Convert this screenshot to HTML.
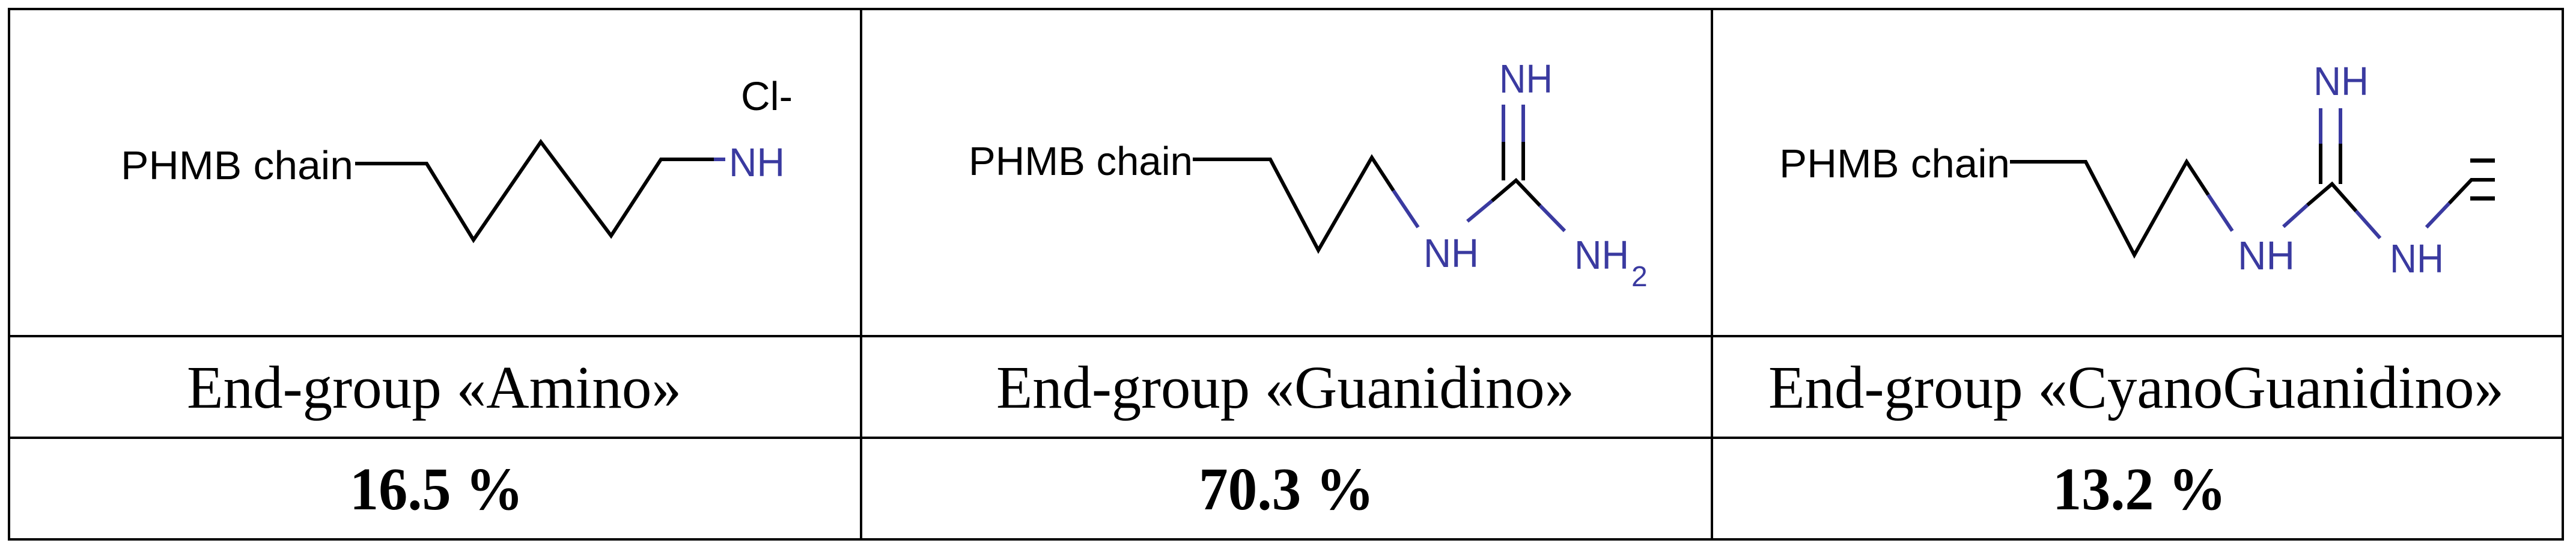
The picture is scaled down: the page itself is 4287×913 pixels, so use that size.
<!DOCTYPE html>
<html><head><meta charset="utf-8"><style>
html,body{margin:0;padding:0;background:#fff;}
svg{display:block;}
.a{font-family:"Liberation Sans",Arial,sans-serif;font-size:67px;}
.t{font-family:"Liberation Serif","Times New Roman",serif;font-size:101px;}
.b{font-family:"Liberation Serif","Times New Roman",serif;font-size:101px;font-weight:bold;}
</style></head><body>
<svg width="4287" height="913" viewBox="0 0 4287 913" xmlns="http://www.w3.org/2000/svg">
<g stroke="#000" stroke-width="4" fill="none">
<rect x="15" y="15" width="4250" height="882"/>
<line x1="15" y1="559" x2="4265" y2="559"/>
<line x1="15" y1="728" x2="4265" y2="728"/>
<line x1="1433" y1="15" x2="1433" y2="897"/>
<line x1="2849" y1="15" x2="2849" y2="897"/>
</g>
<!-- Column 1 -->
<g fill="none" stroke-width="6" stroke-linejoin="miter">
<polyline stroke="#000" points="591,272 710,272 788,399 900,236 1017,392 1100,265 1190,265"/>
<line stroke="#3a3aa0" x1="1188" y1="265" x2="1207" y2="265"/>
</g>
<text class="a" x="201" y="298" textLength="387" lengthAdjust="spacingAndGlyphs">PHMB chain</text>
<text class="a" x="1213" y="293" fill="#3a3aa0" textLength="93" lengthAdjust="spacingAndGlyphs">NH</text>
<text class="a" x="1233" y="183" textLength="86" lengthAdjust="spacingAndGlyphs">Cl-</text>
<!-- Column 2 -->
<g fill="none" stroke-width="6">
<polyline stroke="#000" points="1985,265 2114,265 2194,416 2283,262 2319,317"/>
<line stroke="#3a3aa0" x1="2319" y1="317" x2="2360" y2="378"/>
<line stroke="#3a3aa0" x1="2442" y1="368" x2="2483" y2="334"/>
<polyline stroke="#000" points="2483,334 2523,300 2563,342"/>
<line stroke="#3a3aa0" x1="2563" y1="342" x2="2604" y2="384"/>
<line stroke="#000" x1="2502" y1="300" x2="2502" y2="236"/>
<line stroke="#000" x1="2535" y1="300" x2="2535" y2="236"/>
<line stroke="#3a3aa0" x1="2502" y1="236" x2="2502" y2="174"/>
<line stroke="#3a3aa0" x1="2535" y1="236" x2="2535" y2="174"/>
</g>
<text class="a" x="1612" y="291" textLength="373" lengthAdjust="spacingAndGlyphs">PHMB chain</text>
<g class="a" fill="#3a3aa0">
<text x="2369" y="444" textLength="92" lengthAdjust="spacingAndGlyphs">NH</text>
<text x="2495" y="154" textLength="89" lengthAdjust="spacingAndGlyphs">NH</text>
<text x="2620" y="447" textLength="91" lengthAdjust="spacingAndGlyphs">NH</text>
<text x="2715" y="476" style="font-size:48px">2</text>
</g>
<!-- Column 3 -->
<g fill="none" stroke-width="6">
<polyline stroke="#000" points="3345,269 3471,269 3552,424 3639,269 3675,324"/>
<line stroke="#3a3aa0" x1="3675" y1="324" x2="3715" y2="384"/>
<line stroke="#3a3aa0" x1="3800" y1="377" x2="3840" y2="341"/>
<polyline stroke="#000" points="3840,341 3881,306 3921,351"/>
<line stroke="#3a3aa0" x1="3921" y1="351" x2="3961" y2="396"/>
<line stroke="#000" x1="3862" y1="306" x2="3862" y2="239"/>
<line stroke="#000" x1="3895" y1="306" x2="3895" y2="239"/>
<line stroke="#3a3aa0" x1="3862" y1="239" x2="3862" y2="180"/>
<line stroke="#3a3aa0" x1="3895" y1="239" x2="3895" y2="180"/>
<line stroke="#3a3aa0" x1="4038" y1="378" x2="4076" y2="338"/>
<polyline stroke="#000" points="4076,338 4113,299 4152,299"/>
<line stroke="#000" stroke-width="7" x1="4111" y1="267" x2="4152" y2="267"/>
<line stroke="#000" stroke-width="7" x1="4111" y1="330" x2="4152" y2="330"/>
</g>
<text class="a" x="2961" y="295" textLength="384" lengthAdjust="spacingAndGlyphs">PHMB chain</text>
<g class="a" fill="#3a3aa0">
<text x="3724" y="448" textLength="95" lengthAdjust="spacingAndGlyphs">NH</text>
<text x="3850" y="158" textLength="92" lengthAdjust="spacingAndGlyphs">NH</text>
<text x="3977" y="453" textLength="90" lengthAdjust="spacingAndGlyphs">NH</text>
</g>
<!-- Row 2 -->
<text class="t" x="311" y="678" textLength="823" lengthAdjust="spacingAndGlyphs">End-group «Amino»</text>
<text class="t" x="1658" y="678" textLength="962" lengthAdjust="spacingAndGlyphs">End-group «Guanidino»</text>
<text class="t" x="2943" y="678" textLength="1224" lengthAdjust="spacingAndGlyphs">End-group «CyanoGuanidino»</text>
<!-- Row 3 -->
<text class="b" x="582" y="847" textLength="289" lengthAdjust="spacingAndGlyphs">16.5 %</text>
<text class="b" x="1995" y="847" textLength="292" lengthAdjust="spacingAndGlyphs">70.3 %</text>
<text class="b" x="3416" y="847" textLength="289" lengthAdjust="spacingAndGlyphs">13.2 %</text>
</svg>
</body></html>
